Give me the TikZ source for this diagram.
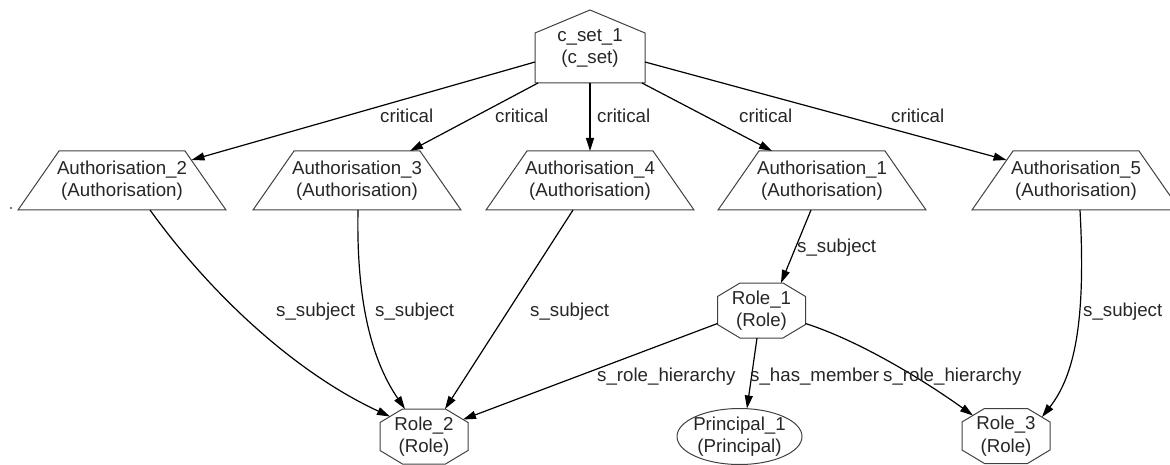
\documentclass[tikz,border=0pt]{standalone}
\usepackage{fontspec}
\setmainfont{Liberation Sans}
\usetikzlibrary{arrows.meta,calc}
\begin{document}
\begin{tikzpicture}[x=1pt,y=-1pt,
  txt/.style={font=\fontsize{18.7}{22.4}\selectfont, text=black!85, inner sep=0pt},
  lbl/.style={txt, align=center},
  elabel/.style={txt, anchor=base west},
  shapeline/.style={draw=black!75, line width=1pt, line join=miter},
  conn/.style={draw=black, line width=1.2pt, -{Triangle[length=13pt,width=8pt]}}
]
\useasboundingbox (0,0) rectangle (1170,465);

% ---- node texts ----
\node[lbl] (cset) at (590,48)    {c\_set\_1\\(c\_set)};
\node[lbl] (a2)   at (122,180.5) {Authorisation\_2\\(Authorisation)};
\node[lbl] (a3)   at (357,180.5) {Authorisation\_3\\(Authorisation)};
\node[lbl] (a4)   at (590,180.5) {Authorisation\_4\\(Authorisation)};
\node[lbl] (a1)   at (822,180.5) {Authorisation\_1\\(Authorisation)};
\node[lbl] (a5)   at (1076,180.5){Authorisation\_5\\(Authorisation)};
\node[lbl] (r1)   at (761.5,310.5) {Role\_1\\(Role)};
\node[lbl] (r2)   at (424,436.5) {Role\_2\\(Role)};
\node[lbl] (r3)   at (1006,436)  {Role\_3\\(Role)};
\node[lbl] (p1)   at (739.5,436.5) {Principal\_1\\(Principal)};

% ---- outlines ----
% house
\draw[shapeline] ($(cset)+(0,-38)$) -- ($(cset)+(55,-15)$) -- ($(cset)+(55,35)$)
  -- ($(cset)+(-55,35)$) -- ($(cset)+(-55,-15)$) -- cycle;
% trapezoids
\foreach \n in {a1,a2,a3,a4,a5}
  \draw[shapeline] ($(\n)+(-63,-29.5)$) -- ($(\n)+(63,-29.5)$) -- ($(\n)+(104,29.5)$)
    -- ($(\n)+(-104,29.5)$) -- cycle;
% octagons
\foreach \n in {r1,r2,r3}
  \draw[shapeline] ($(\n)+(-21.5,-27.5)$) -- ($(\n)+(21.5,-27.5)$) -- ($(\n)+(44,-14)$)
    -- ($(\n)+(44,14)$) -- ($(\n)+(21.5,27.5)$) -- ($(\n)+(-21.5,27.5)$)
    -- ($(\n)+(-44,14)$) -- ($(\n)+(-44,-14)$) -- cycle;
% ellipse
\draw[shapeline] (p1) ellipse [x radius=62.5, y radius=28];

% small speck
\fill[black!70] (11,208) circle [radius=1.2];

% ---- connectors ----
\draw[conn] ($(cset)+(-55,14)$) -- ($(a2)+(69.5,-20.5)$);
\draw[conn] ($(cset)+(-52,35)$) -- ($(a3)+(53,-29.5)$);
\draw[conn] ($(cset)+(0,35)$)   -- ($(a4)+(0,-29.5)$);
\draw[conn] ($(cset)+(52,35)$)  -- ($(a1)+(-50,-29.5)$);
\draw[conn] ($(cset)+(55,14)$)  -- ($(a5)+(-69.5,-20.5)$);

\draw[conn] ($(a2)+(28,29.5)$) .. controls ($(a2)+(93,119.5)$) and ($(a2)+(178,194.5)$) .. ($(r2)+(-34,-20)$);
\draw[conn] ($(a3)+(1,29.5)$) .. controls ($(a3)+(-1,129.5)$) and ($(a3)+(18,184.5)$) .. ($(r2)+(-19,-27.5)$);
\draw[conn] ($(a4)+(-17,29.5)$) -- ($(r2)+(21,-27.5)$);
\draw[conn] ($(a1)+(-11,29.5)$) -- ($(r1)+(19.5,-27.5)$);
\draw[conn] ($(a5)+(4,29.5)$) .. controls ($(a5)+(10,139.5)$) and ($(a5)+(-1,194.5)$) .. ($(r3)+(36,-19)$);

\draw[conn] ($(r1)+(-44,13)$) -- ($(r2)+(39,-17)$);
\draw[conn] ($(r1)+(-4.5,27.5)$) -- ($(p1)+(7.5,-28)$);
\draw[conn] ($(r1)+(44,13)$) .. controls ($(r1)+(98.5,30.5)$) and ($(r1)+(163.5,70.5)$) .. ($(r3)+(-33,-20.5)$);

% ---- connector labels ----
\node[elabel] (c1) at (380,123) {critical};
\node[elabel] (c2) at (495,123) {critical};
\node[elabel] (c3) at (597,123) {critical};
\node[elabel] (c4) at (739,123) {critical};
\node[elabel] (c5) at (891,123) {critical};

\node[elabel] (s1) at (276,316) {s\_subject};
\node[elabel] (s2) at (375,316) {s\_subject};
\node[elabel] (s3) at (530,316) {s\_subject};
\node[elabel] (s4) at (797,252) {s\_subject};
\node[elabel] (s5) at (1083,316) {s\_subject};

\node[elabel] (h1) at (597,381) {s\_role\_hierarchy};
\node[elabel] (m1) at (750,381) {s\_has\_member};
\node[elabel] (h2) at (883,381) {s\_role\_hierarchy};
\end{tikzpicture}
\end{document}
